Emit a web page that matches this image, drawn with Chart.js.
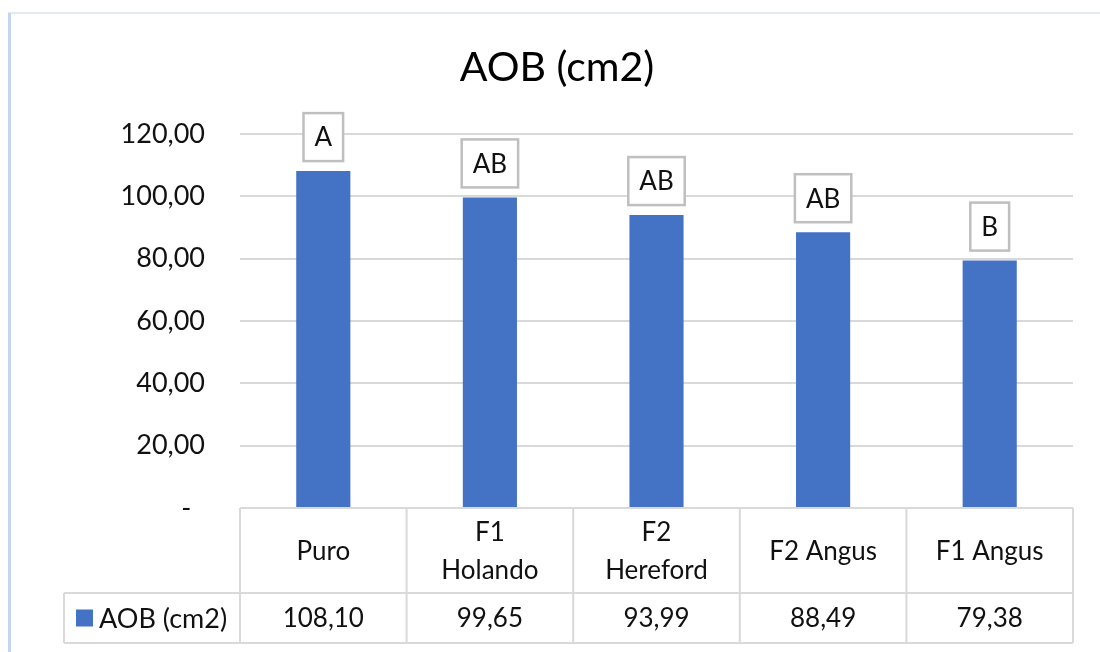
<!DOCTYPE html>
<html>
<head>
<meta charset="utf-8">
<script src="https://cdn.jsdelivr.net/npm/chart.js@4.4.1/dist/chart.umd.min.js"></script>
<style>
  html, body { margin: 0; padding: 0; background: #ffffff; }
  #wrap { position: relative; width: 1100px; height: 652px; }
  canvas { display: block; }
</style>
</head>
<body>
<div id="wrap"><canvas id="chart" width="1100" height="652"></canvas></div>
<script>
// Chart content
const chartTitle = 'AOB (cm2)';
const seriesName = 'AOB (cm2)';
const categories = [['Puro'], ['F1', 'Holando'], ['F2', 'Hereford'], ['F2 Angus'], ['F1 Angus']];
const aobValues = [108.10, 99.65, 93.99, 88.49, 79.38];
const groupLetters = ['A', 'AB', 'AB', 'AB', 'B'];
const yMin = 0;
const yMax = 120;
const yStep = 20;

const FONT = 'Lato, "Open Sans", sans-serif';
const BAR_COLOR = '#4472C4';
const LINE_COLOR = '#d9d9d9';
const TEXT_COLOR = '#111111';

// Spanish decimal format, zero shown as a dash
function fmt(v) {
  return v === 0 ? '-  ' : v.toFixed(2).replace('.', ',');
}

// Outer frame and title
const framePlugin = {
  id: 'frame',
  beforeDraw(chart) {
    const ctx = chart.ctx;
    ctx.save();
    ctx.fillStyle = '#ffffff';
    ctx.fillRect(0, 0, chart.width, chart.height);
    ctx.strokeStyle = '#e4e9f4';
    ctx.lineWidth = 2;
    ctx.beginPath();
    ctx.moveTo(8, 13);
    ctx.lineTo(chart.width, 13);
    ctx.stroke();
    ctx.strokeStyle = '#c6d5ee';
    ctx.lineWidth = 3;
    ctx.beginPath();
    ctx.moveTo(9.5, 13);
    ctx.lineTo(9.5, chart.height);
    ctx.stroke();

    ctx.fillStyle = '#000000';
    ctx.font = '41px ' + FONT;
    ctx.textAlign = 'center';
    ctx.textBaseline = 'alphabetic';
    ctx.fillText(chartTitle, 557, 81);
    ctx.restore();
  }
};

// Boxed group letters above each bar
const lettersPlugin = {
  id: 'letters',
  afterDatasetsDraw(chart) {
    const ctx = chart.ctx;
    const meta = chart.getDatasetMeta(0);
    ctx.save();
    ctx.font = '26px ' + FONT;
    ctx.textAlign = 'center';
    ctx.textBaseline = 'middle';
    meta.data.forEach((bar, i) => {
      const txt = groupLetters[i];
      const w = ctx.measureText(txt).width + 22;
      const h = 48;
      const bottom = bar.y - 10;
      const x = bar.x - w / 2;
      const y = bottom - h;
      ctx.fillStyle = '#ffffff';
      ctx.fillRect(x, y, w, h);
      ctx.strokeStyle = '#bfbfbf';
      ctx.lineWidth = 2.5;
      ctx.strokeRect(x, y, w, h);
      ctx.fillStyle = TEXT_COLOR;
      ctx.fillText(txt, bar.x, y + h / 2 + 1);
    });
    ctx.restore();
  }
};

// Data table under the plot
const tablePlugin = {
  id: 'dataTable',
  afterDraw(chart) {
    const ctx = chart.ctx;
    const area = chart.chartArea;
    const xs = chart.scales.x;
    const n = categories.length;
    const colW = (area.right - area.left) / n;
    const top = area.bottom;
    const mid = top + 85;
    const bot = mid + 50;
    const legendLeft = 64;

    ctx.save();
    ctx.strokeStyle = LINE_COLOR;
    ctx.lineWidth = 2;
    ctx.beginPath();
    // horizontal rules
    ctx.moveTo(area.left, top); ctx.lineTo(area.right, top);
    ctx.moveTo(legendLeft, mid); ctx.lineTo(area.right, mid);
    ctx.moveTo(legendLeft, bot); ctx.lineTo(area.right, bot);
    // vertical rules
    for (let i = 0; i <= n; i++) {
      const x = area.left + i * colW;
      ctx.moveTo(x, top); ctx.lineTo(x, bot);
    }
    ctx.moveTo(legendLeft, mid); ctx.lineTo(legendLeft, bot);
    ctx.stroke();

    ctx.fillStyle = TEXT_COLOR;
    ctx.font = '26px ' + FONT;
    ctx.textAlign = 'center';
    ctx.textBaseline = 'middle';
    const rowMid = (top + mid) / 2 + 1;
    categories.forEach((lines, i) => {
      const cx = xs.getPixelForValue(i);
      const lh = 38;
      const y0 = rowMid - (lines.length - 1) * lh / 2;
      lines.forEach((t, k) => ctx.fillText(t, cx, y0 + k * lh));
      ctx.fillText(fmt(aobValues[i]), cx, (mid + bot) / 2 + 1);
    });

    // legend key
    const ly = (mid + bot) / 2;
    ctx.fillStyle = BAR_COLOR;
    ctx.fillRect(76, ly - 8.5, 17, 17);
    ctx.fillStyle = TEXT_COLOR;
    ctx.font = '27px ' + FONT;
    ctx.textAlign = 'left';
    ctx.fillText(seriesName, 99, ly + 1);
    ctx.restore();
  }
};

new Chart(document.getElementById('chart'), {
  type: 'bar',
  data: {
    labels: categories.map(c => c.join(' ')),
    datasets: [{
      label: seriesName,
      data: aobValues,
      backgroundColor: BAR_COLOR,
      borderWidth: 0,
      barPercentage: 0.65,
      categoryPercentage: 0.5
    }]
  },
  options: {
    responsive: false,
    animation: false,
    devicePixelRatio: 1,
    layout: { padding: { top: 134, bottom: 144, left: 0, right: 27 } },
    plugins: {
      legend: { display: false },
      title: { display: false },
      tooltip: { enabled: false }
    },
    scales: {
      x: { display: false },
      y: {
        min: yMin,
        max: yMax,
        afterFit(scale) { scale.width = 240; },
        border: { display: false },
        grid: { color: LINE_COLOR, lineWidth: 2, drawTicks: false },
        ticks: {
          stepSize: yStep,
          padding: 35,
          color: TEXT_COLOR,
          font: { family: FONT, size: 27 },
          callback: v => fmt(v)
        }
      }
    }
  },
  plugins: [framePlugin, lettersPlugin, tablePlugin]
});
</script>
</body>
</html>
